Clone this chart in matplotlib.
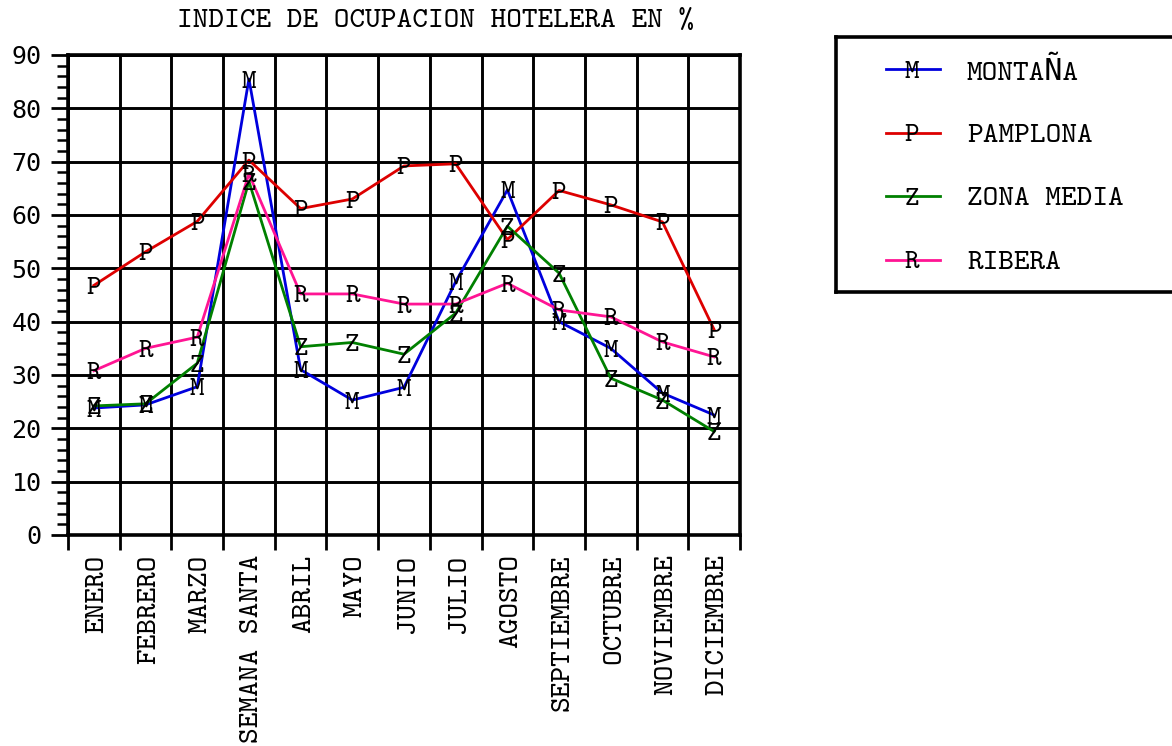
import numpy as np
import matplotlib.pyplot as plt
import matplotlib.transforms as mtransforms
from matplotlib.ticker import MultipleLocator

meses = ['ENERO', 'FEBRERO', 'MARZO', 'SEMANA SANTA', 'ABRIL', 'MAYO', 'JUNIO',
         'JULIO', 'AGOSTO', 'SEPTIEMBRE', 'OCTUBRE', 'NOVIEMBRE', 'DICIEMBRE']

montana = [23.8, 24.4, 27.8, 85.5, 31.0, 25.3, 27.7, 47.5, 64.7, 40.0, 35.0, 26.6, 22.5]
pamplona = [46.8, 53.1, 58.8, 70.3, 61.2, 63.0, 69.2, 69.6, 55.4, 64.6, 61.9, 58.7, 38.5]
zona_media = [24.2, 24.6, 32.2, 66.3, 35.3, 36.1, 33.9, 41.6, 57.9, 49.1, 29.4, 25.3, 19.4]
ribera = [30.8, 35.0, 37.1, 67.7, 45.2, 45.2, 43.3, 43.3, 47.2, 42.2, 40.9, 36.2, 33.4]

series = [('MONTAÑA', 'M', montana, '#0000dd'),
          ('PAMPLONA', 'P', pamplona, '#dd0000'),
          ('ZONA MEDIA', 'Z', zona_media, '#008000'),
          ('RIBERA', 'R', ribera, '#ff1493')]

# letra de maquina de escribir, con reserva para la Ñ
mono = ['cmtt10', 'DejaVu Sans Mono']

fig = plt.figure(figsize=(11.72, 7.46), dpi=100)
ax = fig.add_axes([68/1172, 1 - 535/746, 672/1172, 480/746])

x = np.arange(len(meses))
for nombre, letra, vals, col in series:
    ax.plot(x, vals, color=col, lw=2.0, zorder=3)
    for xi, v in zip(x, vals):
        ax.text(xi, v, letra, family=mono, fontsize=20, ha='center',
                va='center_baseline', zorder=4)

ax.set_xlim(-0.5, len(meses) - 0.5)
ax.set_ylim(0, 90)

# etiquetas en el centro, ticks y rejilla en los limites
ax.set_xticks(x)
ax.set_xticklabels(meses, rotation=90, family=mono, fontsize=21.5)
ax.set_xticks(np.arange(-0.5, len(meses)), minor=True)
ax.tick_params(axis='x', which='major', length=0, pad=14)
ax.tick_params(axis='x', which='minor', length=11, width=2.0, direction='out')
desplaza = mtransforms.ScaledTranslation(4/100, 0, fig.dpi_scale_trans)
for lbl in ax.get_xticklabels():
    lbl.set_transform(lbl.get_transform() + desplaza)

ax.yaxis.set_major_locator(MultipleLocator(10))
ax.yaxis.set_minor_locator(MultipleLocator(2))
ax.tick_params(axis='y', which='major', length=12, width=2.0, pad=7, labelsize=18)
ax.tick_params(axis='y', which='minor', length=8, width=1.8)
for lbl in ax.get_yticklabels():
    lbl.set_family('DejaVu Sans Mono')

ax.grid(which='minor', axis='x', color='black', lw=2.1)
ax.grid(which='major', axis='y', color='black', lw=2.1)
ax.set_axisbelow(True)
for s in ax.spines.values():
    s.set_linewidth(2.6)

fig.text(436/1172, 1 - 22/746, 'INDICE DE OCUPACION HOTELERA EN %',
         family=mono, fontsize=21.5, ha='center', va='center')

# leyenda dibujada a mano
lg = fig.add_axes([836/1172, 1 - 292/746, 344/1172, 255/746])
lg.set_xlim(0, 344)
lg.set_ylim(0, 255)
lg.set_xticks([])
lg.set_yticks([])
for s in lg.spines.values():
    s.set_linewidth(2.6)
for i, (nombre, letra, vals, col) in enumerate(series):
    yy = 255 - (32 + 63.6 * i)
    lg.plot([50, 104], [yy, yy], color=col, lw=2.0)
    lg.text(76, yy, letra, family=mono, fontsize=20, ha='center', va='center_baseline')
    lg.text(131, yy, nombre, family=mono, fontsize=21.5, ha='left', va='center_baseline')

fig.savefig('out.png', dpi=100)
